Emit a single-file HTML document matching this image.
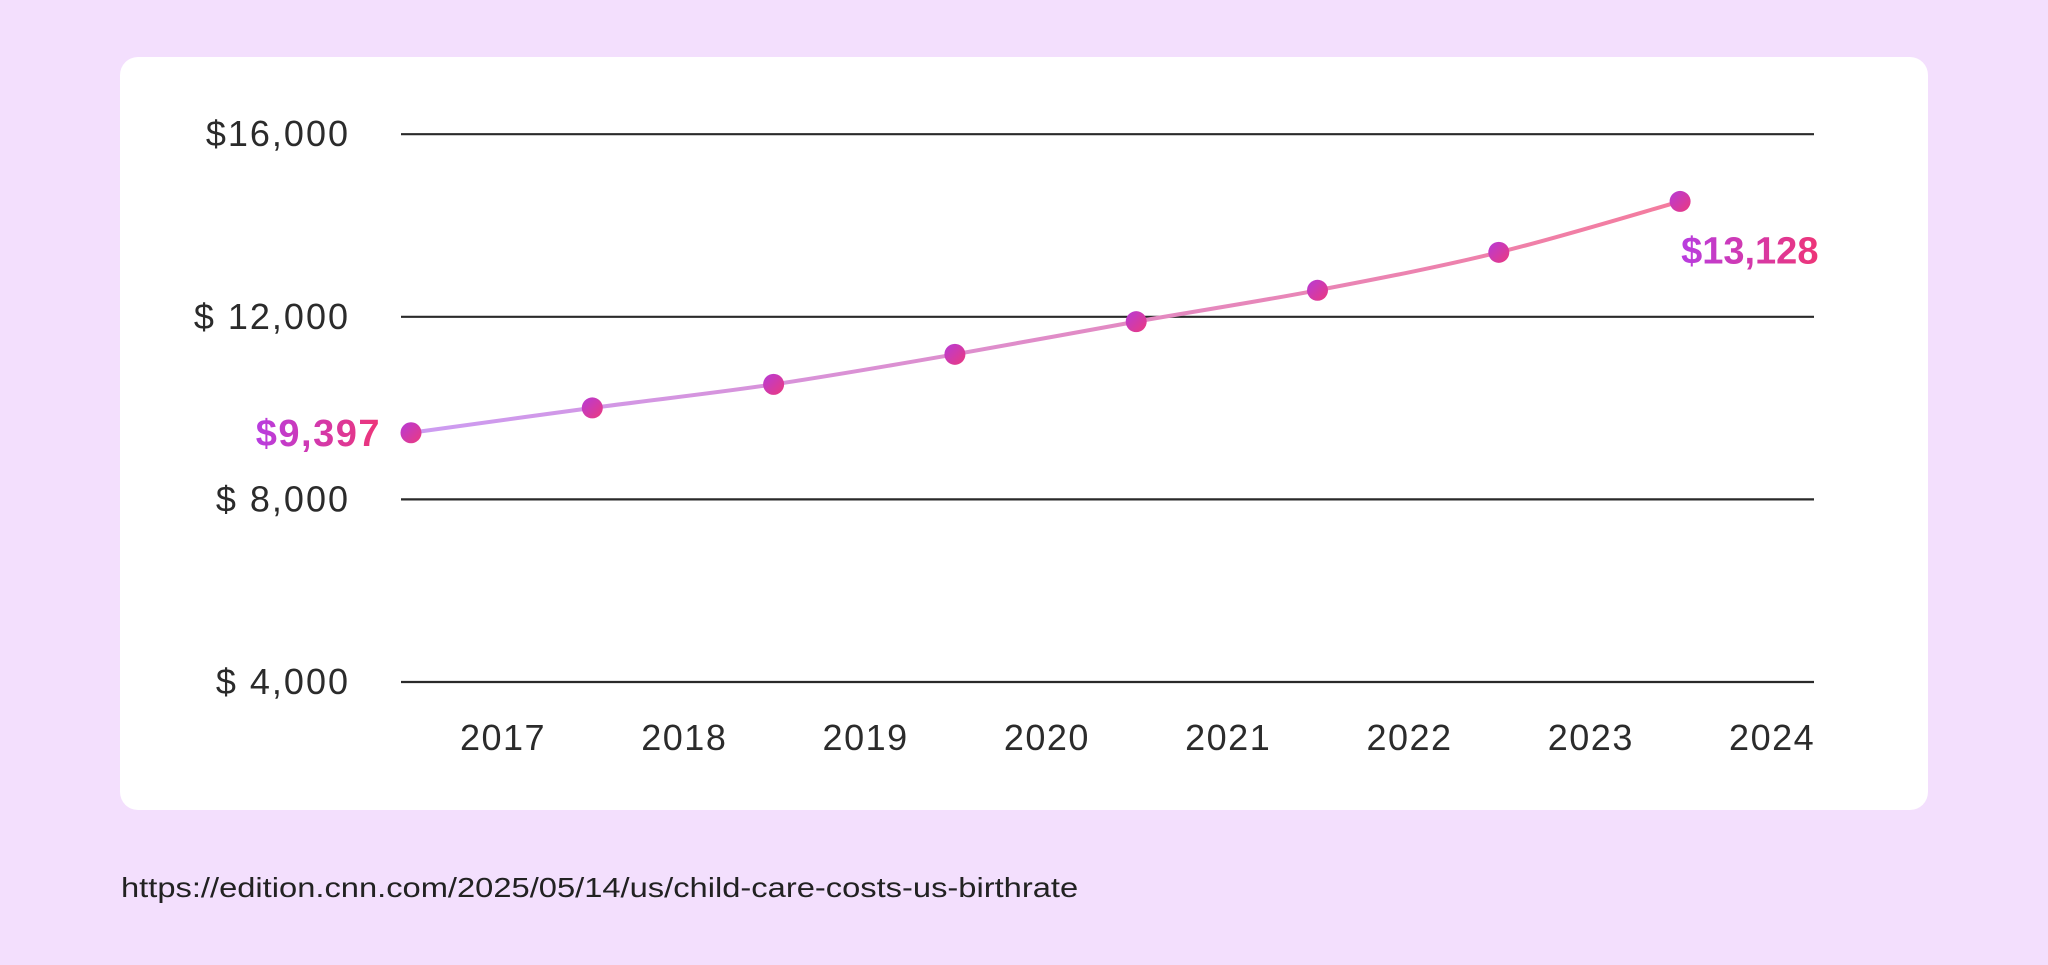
<!DOCTYPE html>
<html><head><meta charset="utf-8"><style>
html,body{margin:0;padding:0;width:2048px;height:965px;background:#f3dffd;overflow:hidden;font-family:"Liberation Sans",sans-serif;}
.card{position:absolute;left:120px;top:57px;width:1808px;height:753px;background:#fff;border-radius:18px;}
.url{position:absolute;left:121px;top:872px;font-size:28px;color:#222;transform-origin:0 0;transform:scaleX(1.167);white-space:nowrap;}
svg{position:absolute;left:0;top:0;}
</style></head><body>
<div class="card"></div>
<svg id="chart" width="2048" height="965">
<defs>
<linearGradient id="lineGrad" x1="0" x2="1" y1="0" y2="0"><stop offset="0" stop-color="#cc9cf2"/><stop offset="1" stop-color="#f47c9e"/></linearGradient>
<linearGradient id="dotGrad" x1="0" x2="1" y1="0" y2="1"><stop offset="0" stop-color="#b63ad8"/><stop offset="1" stop-color="#ec3a7e"/></linearGradient>
<linearGradient id="txtGrad" x1="0" x2="1" y1="0" y2="0"><stop offset="0" stop-color="#b83de0"/><stop offset="1" stop-color="#ee3577"/></linearGradient>
</defs>
</svg>
<div class="url">https://edition.cnn.com/2025/05/14/us/child-care-costs-us-birthrate</div>
<script>
const years = ["2017","2018","2019","2020","2021","2022","2023","2024"];
const values = [9460,10004,10520,11178,11894,12581,13412,14528];
const yTicks = [4000,8000,12000,16000];
const yTickLabels = ["$ 4,000","$ 8,000","$ 12,000","$16,000"];
const firstLabel = "$9,397";
const lastLabel = "$13,128";

const NS="http://www.w3.org/2000/svg";
const svg=document.getElementById('chart');
function xLabel(i){return 503+181.3*i;}
function xPoint(i){return xLabel(i)-92;}
function y(v){return 682-(v-4000)/4000*182.6;}
function mk(tag,attrs,parent){const e=document.createElementNS(NS,tag);for(const k in attrs)e.setAttribute(k,attrs[k]);(parent||svg).appendChild(e);return e;}

yTicks.forEach((t,i)=>{
  const l=mk('line',{x1:401,x2:1814,y1:y(t),y2:y(t),stroke:'#2a2a2a','stroke-width':2.2});
  
  
  const tx=mk('text',{x:350,y:y(t)+12,'text-anchor':'end','font-size':36,fill:'#2b2b2b','letter-spacing':2});
  tx.textContent=yTickLabels[i];
  
  
});
years.forEach((yr,i)=>{
  const tx=mk('text',{x:xLabel(i),y:750,'text-anchor':'middle','font-size':36,fill:'#2b2b2b','letter-spacing':1.5});
  tx.textContent=yr;
  
  
});
const pts=values.map((v,i)=>[xPoint(i),y(v)]);
let d=`M${pts[0][0]},${pts[0][1]}`;
for(let i=0;i<pts.length-1;i++){
  const p0=pts[Math.max(0,i-1)],p1=pts[i],p2=pts[i+1],p3=pts[Math.min(pts.length-1,i+2)];
  const c1=[p1[0]+(p2[0]-p0[0])/6,p1[1]+(p2[1]-p0[1])/6];
  const c2=[p2[0]-(p3[0]-p1[0])/6,p2[1]-(p3[1]-p1[1])/6];
  d+=` C${c1[0]},${c1[1]} ${c2[0]},${c2[1]} ${p2[0]},${p2[1]}`;
}
const path=mk('path',{d:d,fill:'none',stroke:'url(#lineGrad)','stroke-width':4});


pts.forEach(p=>{
  const c=mk('circle',{cx:p[0],cy:p[1],r:10.5,fill:'url(#dotGrad)'});
  
  
});
const a1=mk('text',{x:pts[0][0]-30,y:pts[0][1]+13,'text-anchor':'end','font-size':38,'font-weight':'bold',fill:'url(#txtGrad)','letter-spacing':1.5});
a1.textContent=firstLabel;


const n=pts.length-1;
const a2=mk('text',{x:pts[n][0]+1,y:pts[n][1]+62,'text-anchor':'start','font-size':38,'font-weight':'bold',fill:'url(#txtGrad)'});
a2.textContent=lastLabel;


</script>
</body></html>
